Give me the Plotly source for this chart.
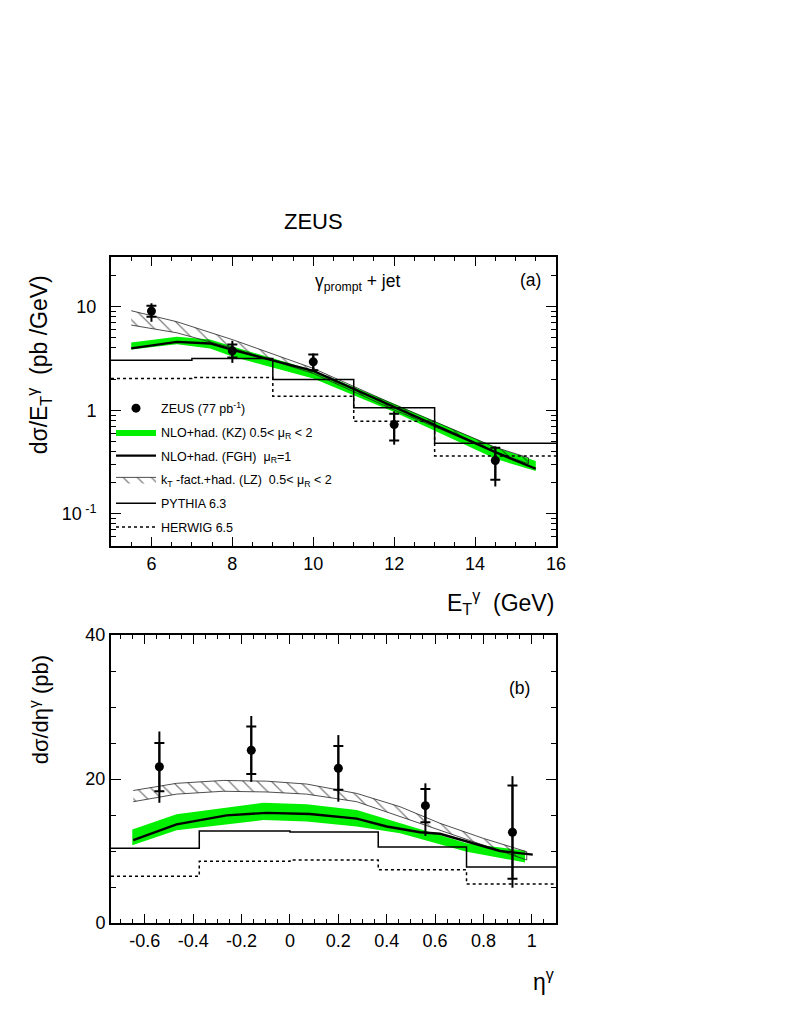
import plotly.graph_objects as go

# ---------------- panel (a): d sigma / dE_T ----------------
et_centers = [6, 8, 10, 12, 14.5]
et_xsec = [9.08, 3.75, 2.94, 0.728, 0.328]
et_stat_up = [1.12, 0.58, 0.52, 0.20, 0.107]
et_stat_dn = [1.08, 0.51, 0.50, 0.218, 0.114]
et_tot_up = [1.72, 0.94, 0.60, 0.25, 0.121]
et_tot_dn = [1.92, 0.88, 0.59, 0.262, 0.144]

et_edges = [5, 7, 9, 11, 13, 16]
pythia_et = [3.05, 3.17, 1.98, 1.06, 0.482]
herwig_et = [2.03, 2.07, 1.37, 0.783, 0.363]

kz_et_x = [5.5, 6.63, 7.45, 8.03, 10.0, 12.0, 14.5, 15.5]
kz_et_hi = [4.52, 5.13, 4.83, 4.1, 2.44, 1.16, 0.44, 0.324]
kz_et_lo = [3.87, 4.35, 3.96, 3.28, 2.03, 0.963, 0.34, 0.259]
fgh_et = [3.96, 4.58, 4.42, 3.81, 2.4, 1.08, 0.395, 0.273]

lz_et_x = [5.5, 6.63, 8.03, 10.0, 12.0, 14.5, 15.32]
lz_et_hi = [9.15, 7.16, 4.77, 2.54, 1.14, 0.44, 0.348]
lz_et_lo = [6.65, 5.6, 3.96, 2.27, 1.01, 0.395, 0.305]

et_ticks = [6, 8, 10, 12, 14, 16]
log_ticks = [0.1, 1, 10]
log_tick_text = ["10<sup> -1</sup>", "1", "10"]

# ---------------- panel (b): d sigma / d eta ----------------
eta_centers = [-0.54, -0.16, 0.2, 0.56, 0.92]
eta_xsec = [21.7, 24.0, 21.5, 16.3, 12.6]
eta_stat_up = [3.3, 3.3, 3.1, 2.3, 6.5]
eta_stat_dn = [3.4, 3.3, 3.0, 2.3, 6.45]
eta_tot_up = [4.9, 4.75, 4.6, 3.1, 7.8]
eta_tot_dn = [5.0, 4.4, 4.65, 4.2, 7.7]

eta_edges = [-0.74, -0.375, 0.0, 0.365, 0.73, 1.1]
pythia_eta = [10.37, 12.78, 12.64, 10.56, 7.78]
herwig_eta = [6.48, 8.56, 8.75, 7.4, 5.42]

kz_eta_x = [-0.652, -0.469, -0.11, 0.069, 0.276, 0.455, 0.731, 0.972]
kz_eta_hi = [13.0, 15.1, 16.7, 16.5, 15.7, 13.85, 11.07, 10.05]
kz_eta_lo = [10.8, 12.9, 14.3, 14.1, 13.4, 12.45, 9.9, 8.4]

fgh_eta_x = [-0.648, -0.469, -0.262, -0.097, 0.083, 0.276, 0.4, 0.538, 0.62, 0.731, 0.869, 1.004]
fgh_eta = [11.5, 13.7, 14.95, 15.3, 15.15, 14.5, 13.4, 12.6, 12.4, 11.3, 10.0, 9.5]

lz_eta_x = [-0.648, -0.469, -0.276, -0.097, 0.069, 0.276, 0.455, 0.62, 0.8, 0.979]
lz_eta_hi = [18.4, 19.4, 19.8, 19.7, 19.3, 18.0, 16.15, 13.85, 11.75, 9.9]
lz_eta_lo = [16.85, 17.9, 18.3, 18.2, 17.9, 16.85, 14.8, 12.9, 10.8, 8.75]

eta_ticks = [-0.6, -0.4, -0.2, 0, 0.2, 0.4, 0.6, 0.8, 1]
eta_tick_text = ["-0.6", "-0.4", "-0.2", "0", "0.2", "0.4", "0.6", "0.8", "1"]

FONT = "Liberation Sans, Arial, Helvetica, sans-serif"
GREEN = "#00f000"

labels = {
    "data": "ZEUS (77 pb<sup>-1</sup>)",
    "kz": "NLO+had. (KZ) 0.5&lt; μ<sub>R</sub> &lt; 2",
    "fgh": "NLO+had. (FGH)  μ<sub>R</sub>=1",
    "lz": "k<sub>T</sub> -fact.+had. (LZ)  0.5&lt; μ<sub>R</sub> &lt; 2",
    "py": "PYTHIA 6.3",
    "hw": "HERWIG 6.5",
}

fig = go.Figure()


def band(x, hi, lo):
    return list(x) + list(x)[::-1], list(hi) + list(lo)[::-1]


def add_panel(xa, ya, show, cx, cy, s_up, s_dn, t_up, t_dn, edges, py, hw,
              kx, khi, klo, fx, fy, lx, lhi, llo):
    # KZ band
    bx, by = band(kx, khi, klo)
    fig.add_trace(go.Scatter(x=bx, y=by, fill="toself", fillcolor=GREEN,
                             line=dict(width=0, color=GREEN), mode="lines",
                             name=labels["kz"], legendgroup="kz", legendrank=2,
                             showlegend=show, xaxis=xa, yaxis=ya))
    # LZ hatched band
    bx, by = band(lx, lhi, llo)
    fig.add_trace(go.Scatter(x=bx, y=by, fill="toself", mode="lines",
                             fillcolor="rgba(0,0,0,0)",
                             fillpattern=dict(shape="\\", fgcolor="black",
                                              bgcolor="rgba(0,0,0,0)", size=10,
                                              solidity=0.13),
                             line=dict(width=0.8, color="#222222"),
                             name=labels["lz"], legendgroup="lz", legendrank=4,
                             showlegend=show, xaxis=xa, yaxis=ya))
    # FGH line
    fig.add_trace(go.Scatter(x=fx, y=fy, mode="lines", line=dict(color="black", width=2.4),
                             name=labels["fgh"], legendgroup="fgh", legendrank=3,
                             showlegend=show, xaxis=xa, yaxis=ya))
    # PYTHIA / HERWIG histograms
    fig.add_trace(go.Scatter(x=edges, y=list(py) + [py[-1]], mode="lines",
                             line=dict(color="black", width=1.5, shape="hv"),
                             name=labels["py"], legendgroup="py", legendrank=5,
                             showlegend=show, xaxis=xa, yaxis=ya))
    fig.add_trace(go.Scatter(x=edges, y=list(hw) + [hw[-1]], mode="lines",
                             line=dict(color="black", width=1.5, shape="hv", dash="dot"),
                             name=labels["hw"], legendgroup="hw", legendrank=6,
                             showlegend=show, xaxis=xa, yaxis=ya))
    # data: total error (no caps), then stat error with caps
    fig.add_trace(go.Scatter(x=cx, y=cy, mode="markers",
                             marker=dict(size=1, color="black", opacity=0),
                             error_y=dict(type="data", symmetric=False, array=t_up,
                                          arrayminus=t_dn, color="black",
                                          thickness=2, width=0),
                             showlegend=False, xaxis=xa, yaxis=ya))
    fig.add_trace(go.Scatter(x=cx, y=cy, mode="markers",
                             marker=dict(size=9, color="black"),
                             error_y=dict(type="data", symmetric=False, array=s_up,
                                          arrayminus=s_dn, color="black",
                                          thickness=2, width=5),
                             name=labels["data"], legendgroup="data", legendrank=1,
                             showlegend=show, xaxis=xa, yaxis=ya))


add_panel("x", "y", True, et_centers, et_xsec, et_stat_up, et_stat_dn, et_tot_up, et_tot_dn,
          et_edges, pythia_et, herwig_et, kz_et_x, kz_et_hi, kz_et_lo, kz_et_x, fgh_et,
          lz_et_x, lz_et_hi, lz_et_lo)
add_panel("x2", "y2", False, eta_centers, eta_xsec, eta_stat_up, eta_stat_dn, eta_tot_up,
          eta_tot_dn, eta_edges, pythia_eta, herwig_eta, kz_eta_x, kz_eta_hi, kz_eta_lo,
          fgh_eta_x, fgh_eta, lz_eta_x, lz_eta_hi, lz_eta_lo)

frame = dict(showline=True, linecolor="black", linewidth=2, mirror="ticks",
             ticks="inside", tickcolor="black", showgrid=False, zeroline=False,
             tickangle=0, tickfont=dict(size=18, color="black"))

log_minor = [m * 10 ** e for e in (-2, -1, 0, 1) for m in range(2, 10)]

# the page adds an 8 px body margin, so the figure is 16 px smaller than the window
fig.update_layout(
    width=784, height=1019,
    paper_bgcolor="white", plot_bgcolor="white",
    font=dict(family=FONT, color="black"),
    margin=dict(l=103, r=236, t=249, b=104),
    showlegend=True,
    legend=dict(x=0.0, y=0.795, xanchor="left", yanchor="top",
                bgcolor="rgba(0,0,0,0)", font=dict(size=12.5, family=FONT),
                tracegroupgap=4.5, traceorder="grouped", itemwidth=40),
    xaxis=dict(frame, domain=[0, 1], anchor="y", range=[5, 16], tickmode="array",
               tickvals=et_ticks, ticklen=9,
               minor=dict(ticks="inside", dtick=0.5, ticklen=4, tickcolor="black")),
    yaxis=dict(frame, domain=[0.566, 1.0], anchor="x", type="log",
               range=[-1.31, 1.48], tickmode="array", tickvals=log_ticks,
               ticktext=log_tick_text, ticklen=10, ticklabelstandoff=9,
               minor=dict(ticks="inside", tickmode="array", tickvals=log_minor,
                          ticklen=5, tickcolor="black")),
    xaxis2=dict(frame, domain=[0, 1], anchor="y2", range=[-0.74, 1.1], tickmode="array",
                tickvals=eta_ticks, ticktext=eta_tick_text, ticklen=9,
                minor=dict(ticks="inside", tick0=0, dtick=0.05, ticklen=4, tickcolor="black")),
    yaxis2=dict(frame, domain=[0, 0.4324], anchor="x2", range=[0, 40], tick0=0, dtick=20,
                ticklen=10, minor=dict(ticks="inside", dtick=5, ticklen=5, tickcolor="black")),
)

ann = dict(showarrow=False, xref="paper", yref="paper", xanchor="center", yanchor="middle",
           font=dict(family=FONT, color="black"))
fig.add_annotation(ann, x=0.456, y=1.0526, text="ZEUS", font_size=22)
fig.add_annotation(ann, x=0.555, y=0.962, text="γ<sub>prompt</sub> + jet", font_size=17.5)
fig.add_annotation(ann, x=0.942, y=0.9655, text="(a)", font_size=17.5)
fig.add_annotation(ann, x=0.919, y=0.353, text="(b)", font_size=17.5)
fig.add_annotation(ann, x=1.0, y=0.482, xanchor="right",
                   text="E<sub>T</sub><sup>γ</sup>  (GeV)", font_size=23)
fig.add_annotation(ann, x=1.0, y=-0.086, xanchor="right",
                   text="η<sup>γ</sup>", font_size=23)
fig.add_annotation(ann, x=-0.163, y=0.838, textangle=-90,
                   text="dσ/E<sub>T</sub><sup>γ</sup>  (pb /GeV)", font_size=23)
fig.add_annotation(ann, x=-0.163, y=0.32, textangle=-90,
                   text="dσ/dη<sup>γ</sup> (pb)", font_size=22)

fig.write_html("out.html")
